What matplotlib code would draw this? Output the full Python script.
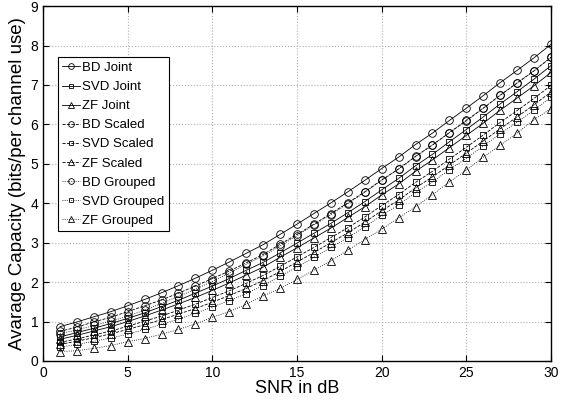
import numpy as np
import matplotlib.pyplot as plt

plt.rcParams['font.family'] = ['Liberation Sans', 'DejaVu Sans']

snr = list(range(1, 31))

bd_joint = [0.87, 0.99, 1.12, 1.25, 1.40, 1.56, 1.73, 1.91, 2.10, 2.30,
            2.51, 2.73, 2.95, 3.21, 3.47, 3.74, 4.01, 4.29, 4.58, 4.88,
            5.17, 5.49, 5.78, 6.10, 6.41, 6.73, 7.06, 7.37, 7.69, 8.03]
svd_joint = [0.61, 0.72, 0.83, 0.95, 1.08, 1.22, 1.38, 1.54, 1.72, 1.90,
             2.09, 2.30, 2.50, 2.74, 2.99, 3.24, 3.49, 3.76, 4.04, 4.34,
             4.63, 4.95, 5.24, 5.56, 5.87, 6.19, 6.52, 6.83, 7.15, 7.49]
zf_joint = [0.55, 0.65, 0.76, 0.87, 1.00, 1.14, 1.29, 1.45, 1.61, 1.79,
            1.98, 2.18, 2.38, 2.63, 2.87, 3.12, 3.37, 3.64, 3.91, 4.21,
            4.49, 4.81, 5.10, 5.41, 5.72, 6.03, 6.36, 6.67, 6.98, 7.32]
bd_scaled = [0.75, 0.86, 0.99, 1.11, 1.25, 1.40, 1.55, 1.72, 1.90, 2.09,
             2.28, 2.49, 2.70, 2.96, 3.21, 3.47, 3.74, 4.01, 4.29, 4.59,
             4.87, 5.19, 5.48, 5.79, 6.10, 6.41, 6.74, 7.05, 7.36, 7.70]
svd_scaled = [0.47, 0.56, 0.66, 0.76, 0.88, 1.01, 1.14, 1.29, 1.44, 1.61,
              1.78, 1.97, 2.17, 2.40, 2.64, 2.88, 3.13, 3.38, 3.65, 3.94,
              4.22, 4.53, 4.81, 5.12, 5.42, 5.73, 6.05, 6.35, 6.66, 6.99]
zf_scaled = [0.42, 0.50, 0.59, 0.69, 0.80, 0.92, 1.05, 1.19, 1.33, 1.49,
             1.66, 1.84, 2.04, 2.27, 2.51, 2.75, 3.00, 3.25, 3.52, 3.81,
             4.08, 4.39, 4.67, 4.97, 5.27, 5.58, 5.89, 6.19, 6.50, 6.82]
bd_grouped = [0.69, 0.79, 0.90, 1.01, 1.14, 1.29, 1.46, 1.64, 1.82, 2.02,
              2.23, 2.45, 2.66, 2.92, 3.18, 3.45, 3.71, 3.99, 4.28, 4.58,
              4.87, 5.18, 5.47, 5.79, 6.09, 6.41, 6.74, 7.05, 7.36, 7.70]
svd_grouped = [0.35, 0.42, 0.50, 0.58, 0.68, 0.80, 0.93, 1.06, 1.21, 1.37,
               1.53, 1.71, 1.91, 2.15, 2.38, 2.63, 2.88, 3.13, 3.40, 3.69,
               3.96, 4.27, 4.54, 4.85, 5.14, 5.45, 5.76, 6.06, 6.36, 6.69]
zf_grouped = [0.24, 0.26, 0.32, 0.39, 0.49, 0.57, 0.68, 0.80, 0.94, 1.11,
              1.25, 1.44, 1.65, 1.84, 2.07, 2.30, 2.54, 2.81, 3.08, 3.34,
              3.63, 3.91, 4.22, 4.54, 4.84, 5.17, 5.47, 5.78, 6.12, 6.40]

series = [
    ("BD Joint", bd_joint, "-", "o"),
    ("SVD Joint", svd_joint, "-", "s"),
    ("ZF Joint", zf_joint, "-", "^"),
    ("BD Scaled", bd_scaled, "--", "o"),
    ("SVD Scaled", svd_scaled, "--", "s"),
    ("ZF Scaled", zf_scaled, "--", "^"),
    ("BD Grouped", bd_grouped, ":", "o"),
    ("SVD Grouped", svd_grouped, ":", "s"),
    ("ZF Grouped", zf_grouped, ":", "^"),
]

fig = plt.figure(figsize=(5.69, 4.01), dpi=100)
ax = fig.add_axes([0.0756, 0.0998, 0.8928, 0.885])

msize = {"o": 5.5, "s": 4.3, "^": 6.0}
for name, vals, ls, mk in series:
    ax.plot(snr, vals, linestyle=ls, marker=mk, color="black", lw=0.6,
            markersize=msize[mk], markerfacecolor="none", markeredgewidth=0.6,
            label=name)

ax.set_xlim(0, 30)
ax.set_ylim(0, 9)
ax.set_xticks(range(0, 31, 5))
ax.set_yticks(range(0, 10))
ax.tick_params(direction="in", top=True, right=True, labelsize=10, length=4)
ax.grid(True, linestyle=":", color="#b0b0b0", lw=0.8)
for s in ax.spines.values():
    s.set_linewidth(1.0)

ax.set_xlabel("SNR in dB", fontsize=13, labelpad=0)
ax.set_ylabel("Avarage Capacity (bits/per channel use)", fontsize=13.5, labelpad=3)

leg = ax.legend(loc="upper left", bbox_to_anchor=(0.029, 0.856), borderaxespad=0,
                fontsize=9.5, markerscale=0.75, handlelength=1.3, handletextpad=0.2,
                labelspacing=0.52, borderpad=0.35, fancybox=False,
                edgecolor="black", framealpha=1)
leg.get_frame().set_linewidth(0.8)

fig.savefig("out.png", dpi=100)
